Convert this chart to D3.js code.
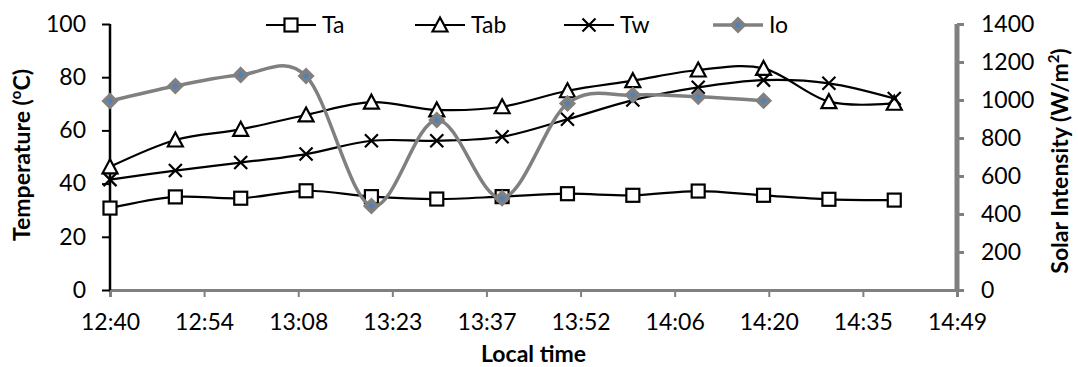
<!DOCTYPE html>
<html lang="en">
<head>
<meta charset="utf-8">
<title>Temperature and solar intensity</title>
<script src="https://cdn.jsdelivr.net/npm/d3@7"></script>
<style>
  body { margin: 0; background: #fff; }
  svg text { font-family: Lato, "Noto Sans", sans-serif; fill: #000; }
  .tick text { font-size: 23px; }
  .axis-title { font-size: 23px; font-weight: bold; }
  .legend text { font-size: 23px; }
</style>
</head>
<body>
<script>
// sample times (local time) and readings
var times = ["12:40", "12:50", "13:00", "13:10", "13:20", "13:30", "13:40",
             "13:50", "14:00", "14:10", "14:20", "14:30", "14:40"];
var Ta  = [30.8, 35.0, 34.5, 37.3, 35.1, 34.2, 35.1, 36.2, 35.6, 37.2, 35.6, 34.1, 33.8];
var Tab = [46.3, 56.4, 60.4, 65.8, 70.6, 67.7, 68.9, 74.9, 78.7, 82.7, 83.3, 70.8, 70.2];
var Tw  = [41.5, 44.9, 47.9, 51.1, 56.1, 56.1, 57.6, 64.2, 71.4, 76.2, 78.9, 77.7, 72.0];
var Io  = [995, 1074, 1132, 1126, 442, 895, 483, 982, 1026, 1017, 996]; // W/m2, until 14:20

// excel style time axis: major unit 0.01 day (14.4 min), labels truncated
var xTickLabels = ["12:40", "12:54", "13:08", "13:23", "13:37", "13:52",
                   "14:06", "14:20", "14:35", "14:49"];
var leftTicks  = [0, 20, 40, 60, 80, 100];
var rightTicks = [0, 200, 400, 600, 800, 1000, 1200, 1400];

var W = 1078, H = 367;
var margin = {top: 24, right: 121, bottom: 77, left: 110};
var width = W - margin.left - margin.right,
    height = H - margin.top - margin.bottom;

function toMin(s) { var p = s.split(":"); return +p[0] * 60 + +p[1]; }
var t0 = toMin(xTickLabels[0]);
var majorUnit = 14.4;

var svg = d3.select("body").append("svg")
    .attr("width", W).attr("height", H);
var g = svg.append("g")
    .attr("transform", "translate(" + margin.left + "," + margin.top + ")");

var x = d3.scaleLinear()
    .domain([t0, t0 + majorUnit * (xTickLabels.length - 1)])
    .range([0, width]);
var y = d3.scaleLinear().domain([0, 100]).range([height, 0]);
var y2 = d3.scaleLinear().domain([0, 1400]).range([height, 0]);

// x axis (grey)
var xAxis = d3.axisBottom(x)
    .tickValues(xTickLabels.map(function(d, i) { return t0 + i * majorUnit; }))
    .tickFormat(function(d, i) { return xTickLabels[i]; })
    .tickSize(7).tickPadding(17);
var gx = g.append("g").attr("transform", "translate(0," + height + ")").call(xAxis);
gx.select(".domain").attr("stroke", "#808080").attr("stroke-width", 3);
gx.selectAll(".tick line").attr("stroke", "#808080").attr("stroke-width", 2);

// left axis (black)
var gy = g.append("g").call(d3.axisLeft(y).tickValues(leftTicks).tickSize(8).tickPadding(16));
gy.select(".domain").attr("stroke", "#000").attr("stroke-width", 2.5).attr("d", "M0," + height + "V0");
gy.selectAll(".tick line").attr("stroke", "#000").attr("stroke-width", 2);

// right axis (grey)
var gy2 = g.append("g").attr("transform", "translate(" + width + ",0)")
    .call(d3.axisRight(y2).tickValues(rightTicks).tickFormat(d3.format("d"))
      .tickSize(7).tickPadding(17));
gy2.select(".domain").attr("stroke", "#808080").attr("stroke-width", 5).attr("d", "M0," + height + "V0");
gy2.selectAll(".tick line").attr("stroke", "#808080").attr("stroke-width", 3);

svg.selectAll(".tick text").attr("fill", "#000");

// axis titles
svg.append("text").attr("class", "axis-title")
    .attr("x", margin.left + width / 2).attr("y", 362)
    .attr("text-anchor", "middle").text("Local time");

var lt = svg.append("text").attr("class", "axis-title")
    .attr("transform", "translate(30," + (margin.top + height / 2 - 2) + ") rotate(-90)")
    .attr("text-anchor", "middle");
lt.append("tspan").text("Temperature (");
lt.append("tspan").attr("font-size", "15px").attr("dy", -9).text("o");
lt.append("tspan").attr("dy", 9).text("C)");

var rt = svg.append("text").attr("class", "axis-title")
    .attr("transform", "translate(1068," + (margin.top + height / 2 + 4) + ") rotate(-90)")
    .attr("text-anchor", "middle");
rt.append("tspan").text("Solar Intensity (W/m");
rt.append("tspan").attr("font-size", "15px").attr("dy", -9).text("2");
rt.append("tspan").attr("dy", 9).text(")");

// markers
function drawMarker(sel, kind) {
  if (kind == "square") {
    sel.append("rect").attr("x", -6.5).attr("y", -6.5).attr("width", 13).attr("height", 13)
      .attr("fill", "#fff").attr("stroke", "#000").attr("stroke-width", 2.2);
  } else if (kind == "triangle") {
    sel.append("path").attr("d", "M0,-7.5L7.5,6.5L-7.5,6.5Z")
      .attr("fill", "#fff").attr("stroke", "#000").attr("stroke-width", 2.2);
  } else if (kind == "cross") {
    sel.append("path").attr("d", "M-6.5,-6.5L6.5,6.5M-6.5,6.5L6.5,-6.5")
      .attr("fill", "none").attr("stroke", "#000").attr("stroke-width", 2.2);
  } else {
    sel.append("path").attr("d", "M0,-7.5L7.5,0L0,7.5L-7.5,0Z")
      .attr("fill", "#808080").attr("stroke", "#808080").attr("stroke-width", 1.5);
    sel.append("path").attr("d", "M0,-3.2L3.2,0L0,3.2L-3.2,0Z").attr("fill", "#4f81bd");
  }
}

var series = [
  {name: "Ta",  values: Ta,  scale: y,  color: "#000",    width: 2.2, marker: "square"},
  {name: "Tab", values: Tab, scale: y,  color: "#000",    width: 2.2, marker: "triangle"},
  {name: "Tw",  values: Tw,  scale: y,  color: "#000",    width: 2.2, marker: "cross"},
  {name: "Io",  values: Io,  scale: y2, color: "#808080", width: 3.5, marker: "diamond"}
];

series.forEach(function(s) {
  var pts = s.values.map(function(v, i) { return {t: toMin(times[i]), v: v}; });
  var line = d3.line()
      .x(function(d) { return x(d.t); })
      .y(function(d) { return s.scale(d.v); })
      .curve(d3.curveCatmullRom.alpha(0));
  g.append("path").datum(pts)
      .attr("fill", "none").attr("stroke", s.color).attr("stroke-width", s.width)
      .attr("d", line);
  g.selectAll(null).data(pts).enter().append("g")
      .attr("transform", function(d) { return "translate(" + x(d.t) + "," + s.scale(d.v) + ")"; })
      .each(function() { drawMarker(d3.select(this), s.marker); });
});

// legend
var legend = svg.append("g").attr("class", "legend")
    .selectAll("g").data(series).enter().append("g")
    .attr("transform", function(d, i) { return "translate(" + (266 + i * 149) + ",25)"; });
legend.append("line").attr("x1", 0).attr("x2", 50)
    .attr("stroke", function(d) { return d.color; })
    .attr("stroke-width", function(d) { return d.width; });
legend.append("g").attr("transform", "translate(25,0)")
    .each(function(d) { drawMarker(d3.select(this), d.marker); });
legend.append("text").attr("x", 56).attr("y", 8).text(function(d) { return d.name; });
</script>
</body>
</html>
